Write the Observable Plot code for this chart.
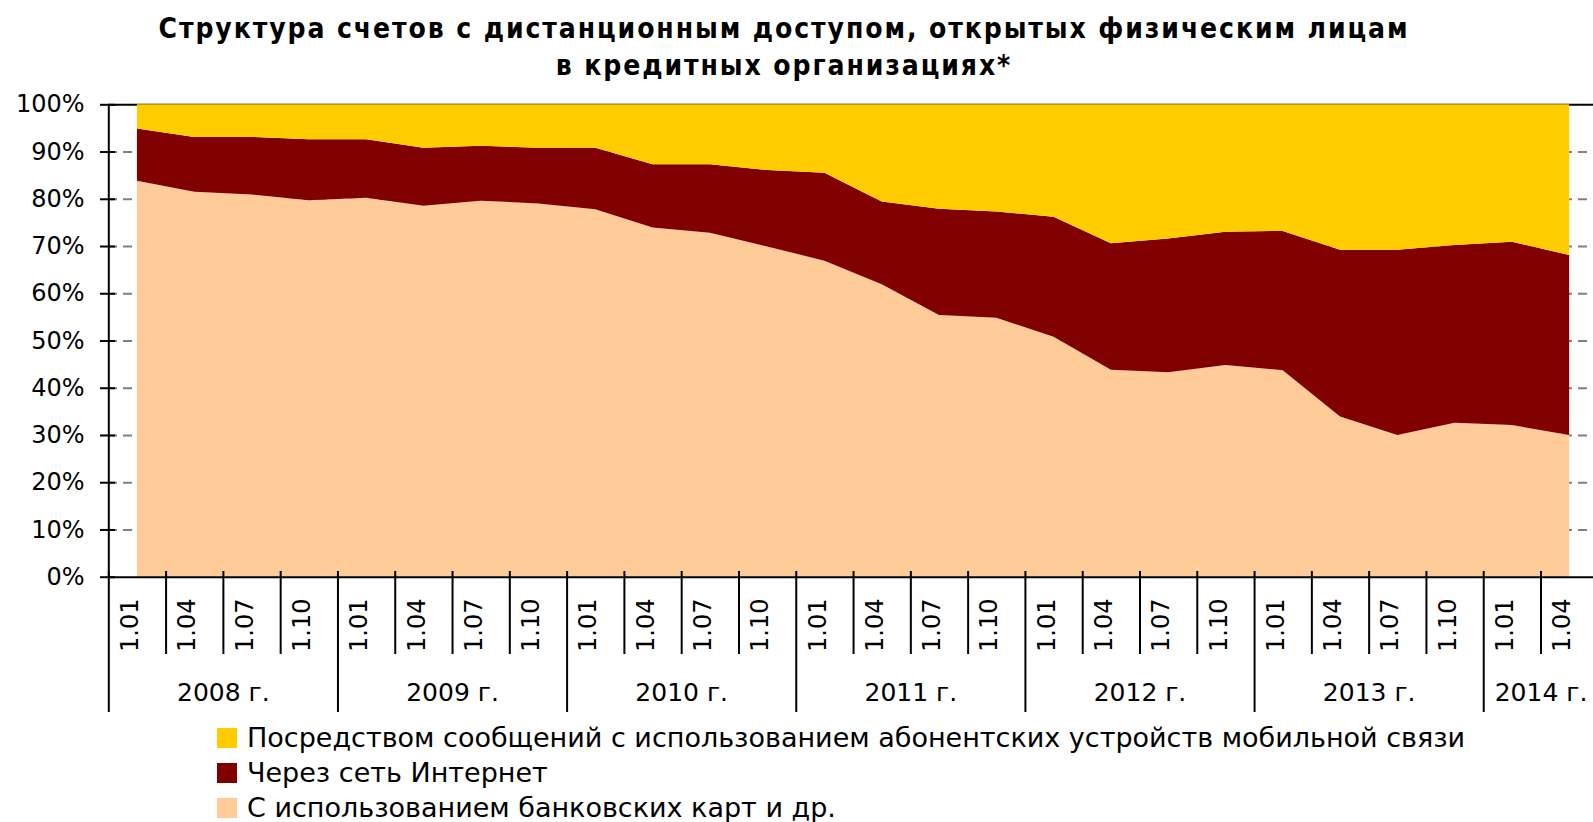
<!DOCTYPE html>
<html><head><meta charset="utf-8">
<script src="https://cdn.jsdelivr.net/npm/d3@7"></script>
<script src="https://cdn.jsdelivr.net/npm/@observablehq/plot@0.6"></script>
<style>
body{margin:0;background:#fff;width:1593px;height:822px;overflow:hidden;position:relative;font-family:"DejaVu Sans",sans-serif;color:#000;}
#title{position:absolute;left:0;top:0;width:1568px;text-align:center;font-family:"DejaVu Sans Condensed","DejaVu Sans",sans-serif;font-weight:bold;font-size:28px;letter-spacing:1.9px;line-height:37px;padding-top:10px;}
#chart{position:absolute;left:0;top:88px;}
#legend{position:absolute;left:217px;top:720px;font-size:27px;}
.row{display:flex;align-items:center;height:35px;white-space:nowrap;}
.sw{width:20px;height:20px;margin-right:10px;flex:none;}
</style></head><body>
<div id="title">Структура счетов с дистанционным доступом, открытых физическим лицам<br>в кредитных организациях*</div>
<div id="chart"></div>
<div id="legend"></div>
<script>
// Periods (quarter start dates), 2008 Q1 .. 2014 Q2
const periods = ["01.2008","04.2008","07.2008","10.2008",
                 "01.2009","04.2009","07.2009","10.2009",
                 "01.2010","04.2010","07.2010","10.2010",
                 "01.2011","04.2011","07.2011","10.2011",
                 "01.2012","04.2012","07.2012","10.2012",
                 "01.2013","04.2013","07.2013","10.2013",
                 "01.2014","04.2014"];
// Shares, %
const cards    = [83.8,81.5,80.9,79.7,80.2,78.5,79.6,79.0,77.8,73.9,72.8,69.9,66.9,61.9,55.4,54.8,50.8,43.8,43.3,44.8,43.7,33.9,30.0,32.6,32.1,30.0];
const internet = [11.1,11.6,12.2,12.9,12.4,12.3,11.6,11.8,13.0,13.4,14.5,16.2,18.6,17.5,22.5,22.5,25.4,26.8,28.3,28.2,29.5,35.3,39.2,37.6,38.8,38.1];
const mobile   = [5.1,6.9,6.9,7.4,7.4,9.2,8.8,9.2,9.2,12.7,12.7,13.9,14.5,20.6,22.1,22.7,23.8,29.4,28.4,27.0,26.8,30.8,30.8,29.8,29.1,31.9];
const seriesNames = ["С использованием банковских карт и др.",
                     "Через сеть Интернет",
                     "Посредством сообщений с использованием абонентских устройств мобильной связи"];
const seriesColors = ["#FFCC99","#800000","#FFCC00"];
const yTicks = [0,10,20,30,40,50,60,70,80,90,100];
const yearSuffix = " г.";

const seriesValues = [cards, internet, mobile];
const rows = [];
periods.forEach((p, i) => seriesValues.forEach((arr, k) => rows.push({i, series: seriesNames[k], value: arr[i]})));
const quarters = periods.map((p, i) => ({i, label: "1." + p.slice(0, 2), year: p.slice(3)}));
const years = d3.groups(quarters, d => d.year).map(([y, qs]) => ({year: y + yearSuffix, x: d3.mean(qs, d => d.i), start: qs[0].i - 0.5}));
const quarterBounds = quarters.filter(d => d.label !== "1.01").map(d => d.i - 0.5);
const yearBounds = years.map(d => d.start);
const n = periods.length;

const chart = Plot.plot({
  width: 1593, height: 634,
  marginLeft: 108, marginRight: 0, marginTop: 16, marginBottom: 146,
  style: {fontFamily: "DejaVu Sans", fontSize: "24px", color: "#000", background: "#fff", overflow: "visible"},
  x: {type: "linear", domain: [-0.5, n - 0.5], range: [108.3, 1597.8]},
  y: {domain: [0, 100], range: [488.7, 16.3]},
  color: {domain: seriesNames, range: seriesColors},
  marks: [
    Plot.ruleY(yTicks.filter(d => d > 0 && d < 100), {stroke: "#808080", strokeWidth: 2, strokeDasharray: "9,6"}),
    Plot.ruleY([100], {stroke: "#000", strokeWidth: 2}),
    Plot.areaY(rows, {x: "i", y: "value", z: "series", fill: "series"}),
    Plot.ruleY([0], {stroke: "#000", strokeWidth: 2}),
    Plot.ruleX([-0.5], {y1: 0, y2: 100, stroke: "#000", strokeWidth: 2}),
    Plot.axisY({ticks: yTicks, tickFormat: d => d + "%", tickSize: 8, tickPadding: 16, strokeWidth: 2, label: null, fontSize: 24}),
    Plot.axisY({ticks: yTicks, tickFormat: () => "", tickSize: 7, dx: 7, strokeWidth: 2, label: null}),
    Plot.axisX({ticks: quarterBounds, tickSize: 83, dy: -5, tickFormat: () => "", strokeWidth: 2, label: null}),
    Plot.axisX({ticks: yearBounds, tickSize: 141, dy: -5, tickFormat: () => "", strokeWidth: 2, label: null}),
    Plot.text(quarters, {x: "i", text: "label", frameAnchor: "bottom", rotate: -90, textAnchor: "end", lineAnchor: "middle", dy: 22, dx: -7, fontSize: 24}),
    Plot.text(years, {x: "x", text: "year", frameAnchor: "bottom", dy: 116, lineAnchor: "middle", fontSize: 25})
  ]
});
document.getElementById("chart").appendChild(chart);

const legend = document.getElementById("legend");
[2, 1, 0].forEach(k => {
  const row = document.createElement("div");
  row.className = "row";
  const sw = document.createElement("span");
  sw.className = "sw";
  sw.style.background = seriesColors[k];
  const t = document.createElement("span");
  t.textContent = seriesNames[k];
  row.appendChild(sw); row.appendChild(t);
  legend.appendChild(row);
});
</script>
</body></html>
